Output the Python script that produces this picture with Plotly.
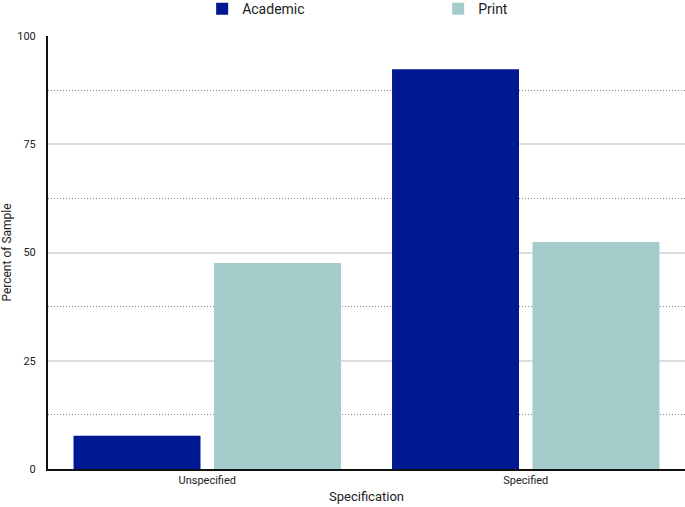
import plotly.graph_objects as go

categories = ["Unspecified", "Specified"]
academic = [7.7, 92.3]
print_vals = [47.6, 52.4]
y_ticks = [0, 25, 50, 75, 100]

FONT = "Roboto, sans-serif"

fig = go.Figure()
fig.add_trace(go.Bar(name="Academic", x=categories, y=academic,
                     marker=dict(color="#001891", line=dict(width=0))))
fig.add_trace(go.Bar(name="Print", x=categories, y=print_vals,
                     marker=dict(color="#a5cccb", line=dict(width=0))))

fig.update_layout(
    width=685, height=507,
    margin=dict(l=48, r=0, t=36, b=38, autoexpand=False),
    paper_bgcolor="white", plot_bgcolor="white",
    barmode="group", bargap=0.118, bargroupgap=0.096,
    font=dict(family=FONT, color="#222", size=11),
    showlegend=True,
    legend=dict(orientation="h", x=0.242, xanchor="left", y=1.062, yanchor="middle",
                font=dict(size=14, family=FONT, color="#222"),
                entrywidth=191, entrywidthmode="pixels", itemsizing="constant"),
)
fig.update_xaxes(
    showline=True, linecolor="#111", linewidth=2,
    showgrid=False, ticks="", tickfont=dict(size=11),
    title=dict(text="Specification", font=dict(size=13), standoff=6),
)
fig.update_yaxes(
    range=[0, 100], tickvals=y_ticks, ticktext=[str(v) for v in y_ticks],
    showline=True, linecolor="#111", linewidth=2,
    showgrid=True, gridcolor="#dddddd", gridwidth=1.5,
    zeroline=False, ticks="", tickfont=dict(size=11), ticklabelstandoff=8,
    minor=dict(dtick=12.5, tick0=0, showgrid=True, gridcolor="#888888",
               griddash="1px,2px", gridwidth=1),
    title=dict(text="Percent of Sample", font=dict(size=12), standoff=10),
)

fig.write_html("out.html", config={"displayModeBar": False},
               post_script="document.body.style.margin='0';document.body.style.overflow='hidden';")
